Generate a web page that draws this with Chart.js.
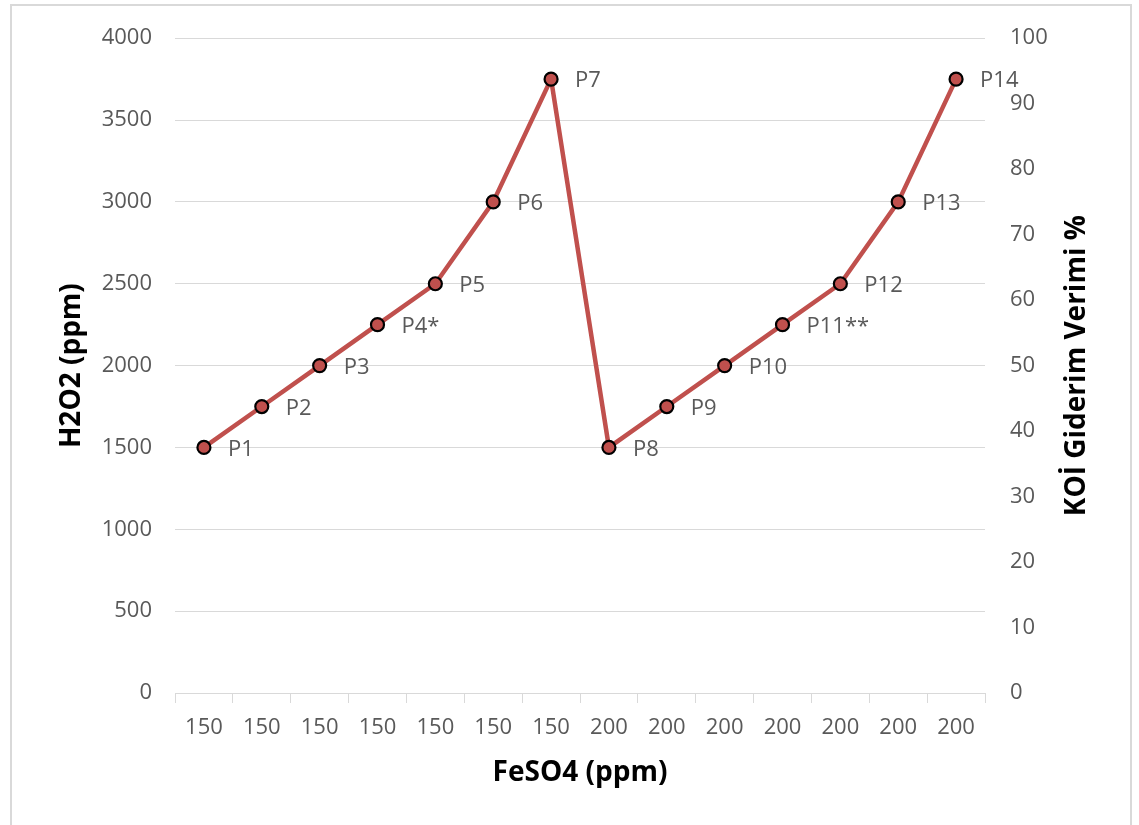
<!DOCTYPE html>
<html>
<head>
<meta charset="utf-8">
<script src="https://cdn.jsdelivr.net/npm/chart.js@4"></script>
<style>
  html, body { margin: 0; padding: 0; background: #fff; overflow: hidden; }
  #wrap { position: relative; width: 1139px; height: 825px; }
  #frame { position: absolute; left: 10px; top: 4px; width: 1122px; height: 840px; border: 2px solid #d9d9d9; box-sizing: border-box; }
  canvas { position: absolute; left: 0; top: 0; }
</style>
</head>
<body>
<div id="wrap">
  <div id="frame"></div>
  <canvas id="chart" width="1139" height="825"></canvas>
</div>
<script>
// FeSO4 dose for each run, H2O2 dose and run names
var categories = ['150', '150', '150', '150', '150', '150', '150', '200', '200', '200', '200', '200', '200', '200'];
var h2o2 = [1500, 1750, 2000, 2250, 2500, 3000, 3750, 1500, 1750, 2000, 2250, 2500, 3000, 3750];
var runNames = ['P1', 'P2', 'P3', 'P4*', 'P5', 'P6', 'P7', 'P8', 'P9', 'P10', 'P11**', 'P12', 'P13', 'P14'];
var leftTicks = [0, 500, 1000, 1500, 2000, 2500, 3000, 3500, 4000];
var rightTicks = [0, 10, 20, 30, 40, 50, 60, 70, 80, 90, 100];

var LINE_RED = '#c0504d';
var GRID = '#d9d9d9';
var TEXT = '#595959';
var FONT = '"Open Sans", "DejaVu Sans", sans-serif';

function plain(v) { return String(v); }

// run labels next to each marker
var pointLabels = {
  id: 'pointLabels',
  afterDatasetsDraw: function(chart) {
    var ctx = chart.ctx;
    var meta = chart.getDatasetMeta(0);
    ctx.save();
    ctx.font = '22px ' + FONT;
    ctx.fillStyle = TEXT;
    ctx.textAlign = 'left';
    ctx.textBaseline = 'middle';
    meta.data.forEach(function(pt, i) {
      ctx.fillText(runNames[i], pt.x + 24, pt.y + 2);
    });
    ctx.restore();
  }
};

// axis titles (the right one reads bottom-to-top, unlike Chart.js default)
function drawRotated(ctx, text, x, y) {
  ctx.save();
  ctx.font = 'bold 28px ' + FONT;
  ctx.fillStyle = '#000';
  ctx.textAlign = 'center';
  ctx.textBaseline = 'middle';
  ctx.translate(x, y);
  ctx.rotate(-Math.PI / 2);
  ctx.fillText(text, 0, 0);
  ctx.restore();
}

var axisTitles = {
  id: 'axisTitles',
  afterDraw: function(chart) {
    var ctx = chart.ctx;
    var a = chart.chartArea;
    var midY = (a.top + a.bottom) / 2;
    ctx.save();
    ctx.font = 'bold 28px ' + FONT;
    ctx.fillStyle = '#000';
    ctx.textAlign = 'center';
    ctx.textBaseline = 'middle';
    ctx.fillText('FeSO4 (ppm)', (a.left + a.right) / 2, a.bottom + 80);
    ctx.restore();
    drawRotated(ctx, 'H2O2 (ppm)', a.left - 103, midY);
    drawRotated(ctx, 'KOİ Giderim Verimi %', a.right + 92, midY);
  }
};

new Chart(document.getElementById('chart').getContext('2d'), {
  type: 'line',
  data: {
    labels: categories,
    datasets: [{
      data: h2o2,
      yAxisID: 'y',
      borderColor: LINE_RED,
      borderWidth: 4.5,
      backgroundColor: LINE_RED,
      pointBackgroundColor: LINE_RED,
      pointBorderColor: '#000',
      pointBorderWidth: 2.2,
      pointRadius: 6.5,
      tension: 0,
      fill: false
    }]
  },
  options: {
    responsive: false,
    animation: false,
    layout: { padding: { top: 36, left: 0, right: 0, bottom: 0 } },
    plugins: {
      legend: { display: false },
      tooltip: { enabled: false }
    },
    scales: {
      x: {
        offset: true,
        grid: { offset: true, drawOnChartArea: false, color: GRID, tickLength: 10, lineWidth: 1 },
        border: { display: true, color: GRID, width: 1 },
        ticks: { color: TEXT, font: { size: 22, family: FONT }, padding: 12, maxRotation: 0, autoSkip: false },
        afterFit: function(s) { s.height = 132; }
      },
      y: {
        position: 'left',
        min: 0,
        max: 4000,
        afterBuildTicks: function(s) { s.ticks = leftTicks.map(function(v) { return { value: v }; }); },
        grid: { color: GRID, drawTicks: false, lineWidth: 1 },
        border: { display: false },
        ticks: { color: TEXT, font: { size: 22, family: FONT }, padding: 23, callback: plain },
        afterFit: function(s) { s.width = 175; }
      },
      y1: {
        position: 'right',
        min: 0,
        max: 100,
        afterBuildTicks: function(s) { s.ticks = rightTicks.map(function(v) { return { value: v }; }); },
        grid: { display: false, drawTicks: false },
        border: { display: false },
        ticks: { color: TEXT, font: { size: 22, family: FONT }, padding: 25, callback: plain },
        afterFit: function(s) { s.width = 154; }
      }
    }
  },
  plugins: [pointLabels, axisTitles]
});
</script>
</body>
</html>
